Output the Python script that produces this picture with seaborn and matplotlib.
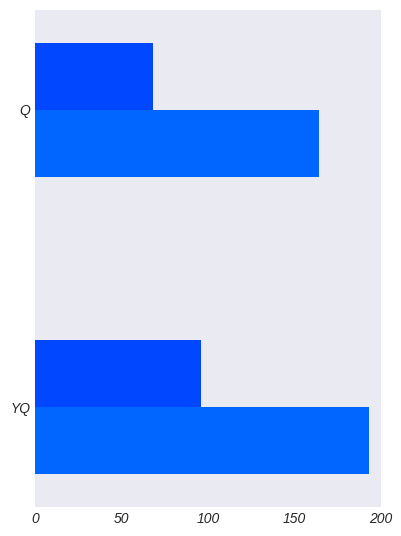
import pandas as pd
import matplotlib.pyplot as plt
import seaborn as sns

# --- Data ---
categories = ['Q', 'YQ']
series_a = [68, 96]
series_b = [164, 193]
x_ticks = [0, 50, 100, 150, 200]

df = pd.DataFrame({
    'category': categories * 2,
    'value': series_a + series_b,
    'series': ['a'] * len(categories) + ['b'] * len(categories),
})

sns.set_style('dark')
plt.rcParams['font.family'] = ['Liberation Sans', 'DejaVu Sans']

fig = plt.figure(figsize=(4.02, 5.36), dpi=100)
ax = fig.add_axes([35 / 402, 1 - 507 / 536, 346 / 402, 497 / 536])

sns.barplot(data=df, y='category', x='value', hue='series', orient='h',
            palette=['#0047FF', '#0066FF'], width=0.45, saturation=1,
            linewidth=0, edgecolor='none', legend=False, ax=ax)

ax.set_xlim(0, 200)
ax.set_ylim(1.335, -0.335)
ax.set_xticks(x_ticks)
ax.set_xlabel('')
ax.set_ylabel('')
for lbl in ax.get_xticklabels() + ax.get_yticklabels():
    lbl.set_fontstyle('italic')
    lbl.set_fontsize(10)
    lbl.set_color('#262626')
ax.tick_params(length=0)
for s in ax.spines.values():
    s.set_visible(False)

fig.savefig('out.png', dpi=100)
